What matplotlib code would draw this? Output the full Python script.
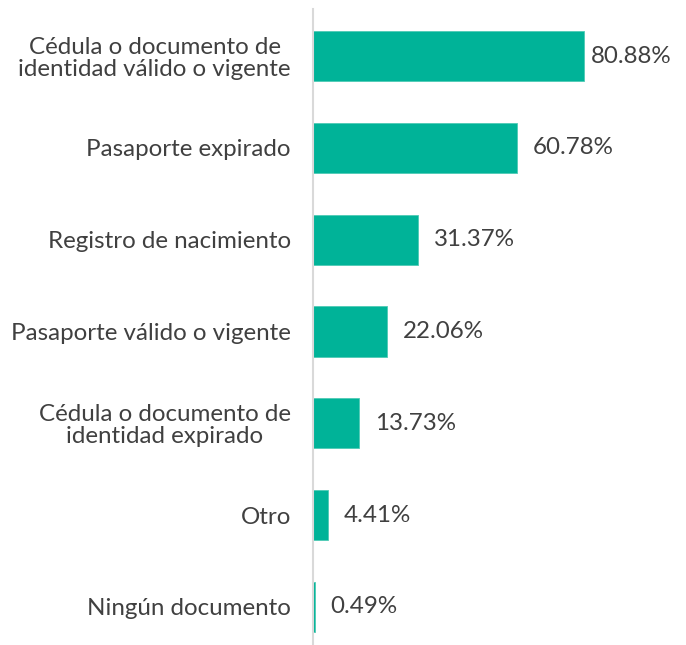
import matplotlib
matplotlib.use("Agg")
import matplotlib.pyplot as plt

# datos del grafico
categorias = [
    "Cédula o documento de\nidentidad válido o vigente",
    "Pasaporte expirado",
    "Registro de nacimiento",
    "Pasaporte válido o vigente",
    "Cédula o documento de\nidentidad expirado",
    "Otro",
    "Ningún documento",
]
porcentajes = [80.88, 60.78, 31.37, 22.06, 13.73, 4.41, 0.49]
etiquetas = [f"{v:.2f}%" for v in porcentajes]

plt.rcParams['font.family'] = ['Lato', 'DejaVu Sans']
color_barra = "#00B398"
color_texto = "#404040"
tam = 17.4

fig = plt.figure(figsize=(6.86, 6.45), dpi=100)
ax = fig.add_axes([313 / 686, 0, 1 - 313 / 686, 636 / 645])

y = list(range(len(categorias)))
ax.barh(y, porcentajes, height=0.545, color=color_barra,
        edgecolor="#4fcab5", linewidth=0.6)
ax.set_xlim(0, 373 / 3.35)
ax.set_ylim(6.414, -0.512)

ax.set_yticks(y)
ax.set_yticklabels(categorias, fontsize=tam, color=color_texto, linespacing=1.05)
ax.tick_params(axis='y', length=0, pad=16)
ax.set_xticks([])
for s in ['top', 'right', 'bottom']:
    ax.spines[s].set_visible(False)
ax.spines['left'].set_color("#d9d9d9")
ax.spines['left'].set_linewidth(1.5)
for lbl in ax.get_yticklabels():
    lbl.set_horizontalalignment('right')
    lbl.set_multialignment('center')

# etiquetas de valor; si no caben, se acercan a la barra
fig.canvas.draw()
renderer = fig.canvas.get_renderer()
borde = 671
for i, (v, t) in enumerate(zip(porcentajes, etiquetas)):
    txt = ax.annotate(t, (v, i), xytext=(11.5, 0), textcoords='offset points',
                      va='center', ha='left', fontsize=tam, color=color_texto)
    bb = txt.get_window_extent(renderer)
    if bb.x1 > borde:
        txt.set_position((11.5 - (bb.x1 - borde) * 72 / 100, 0))

fig.savefig("out.png", dpi=100)
